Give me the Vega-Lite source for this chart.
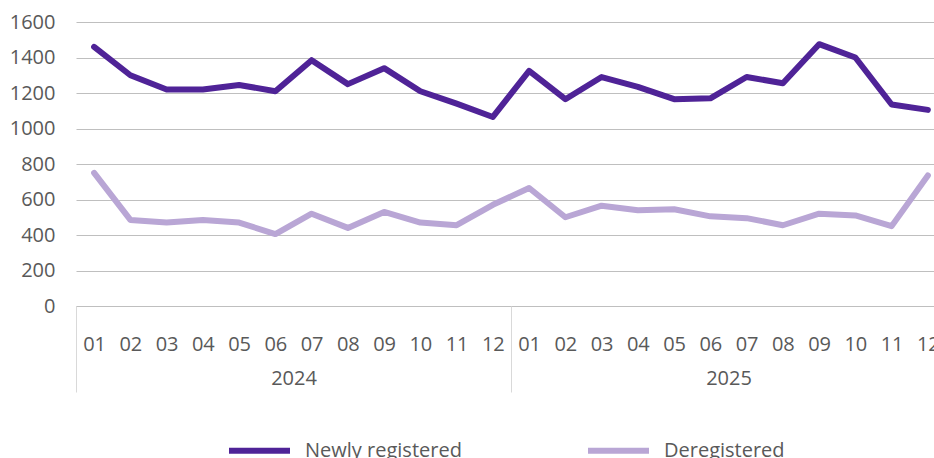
{
  "$schema": "https://vega.github.io/schema/vega-lite/v6.json",
  "width": 858,
  "height": 284,
  "autosize": {"type": "none"},
  "padding": {"left": 76, "top": 22, "right": 0, "bottom": 152},
  "background": "white",
  "config": {
    "view": {"stroke": null},
    "font": "Open Sans",
    "axis": {"labelFont": "Open Sans", "labelFontSize": 20, "labelColor": "#595959", "title": null}
  },
  "data": {
    "values": [
      {"period": "2024-01", "year": "2024", "series": "Newly registered", "value": 1460},
      {"period": "2024-02", "year": "2024", "series": "Newly registered", "value": 1300},
      {"period": "2024-03", "year": "2024", "series": "Newly registered", "value": 1220},
      {"period": "2024-04", "year": "2024", "series": "Newly registered", "value": 1220},
      {"period": "2024-05", "year": "2024", "series": "Newly registered", "value": 1245},
      {"period": "2024-06", "year": "2024", "series": "Newly registered", "value": 1210},
      {"period": "2024-07", "year": "2024", "series": "Newly registered", "value": 1385},
      {"period": "2024-08", "year": "2024", "series": "Newly registered", "value": 1250},
      {"period": "2024-09", "year": "2024", "series": "Newly registered", "value": 1340},
      {"period": "2024-10", "year": "2024", "series": "Newly registered", "value": 1210},
      {"period": "2024-11", "year": "2024", "series": "Newly registered", "value": 1140},
      {"period": "2024-12", "year": "2024", "series": "Newly registered", "value": 1065},
      {"period": "2025-01", "year": "2025", "series": "Newly registered", "value": 1325},
      {"period": "2025-02", "year": "2025", "series": "Newly registered", "value": 1165},
      {"period": "2025-03", "year": "2025", "series": "Newly registered", "value": 1290},
      {"period": "2025-04", "year": "2025", "series": "Newly registered", "value": 1235},
      {"period": "2025-05", "year": "2025", "series": "Newly registered", "value": 1165},
      {"period": "2025-06", "year": "2025", "series": "Newly registered", "value": 1170},
      {"period": "2025-07", "year": "2025", "series": "Newly registered", "value": 1290},
      {"period": "2025-08", "year": "2025", "series": "Newly registered", "value": 1255},
      {"period": "2025-09", "year": "2025", "series": "Newly registered", "value": 1475},
      {"period": "2025-10", "year": "2025", "series": "Newly registered", "value": 1400},
      {"period": "2025-11", "year": "2025", "series": "Newly registered", "value": 1135},
      {"period": "2025-12", "year": "2025", "series": "Newly registered", "value": 1105},
      {"period": "2024-01", "year": "2024", "series": "Deregistered", "value": 750},
      {"period": "2024-02", "year": "2024", "series": "Deregistered", "value": 485},
      {"period": "2024-03", "year": "2024", "series": "Deregistered", "value": 470},
      {"period": "2024-04", "year": "2024", "series": "Deregistered", "value": 485},
      {"period": "2024-05", "year": "2024", "series": "Deregistered", "value": 470},
      {"period": "2024-06", "year": "2024", "series": "Deregistered", "value": 405},
      {"period": "2024-07", "year": "2024", "series": "Deregistered", "value": 520},
      {"period": "2024-08", "year": "2024", "series": "Deregistered", "value": 440},
      {"period": "2024-09", "year": "2024", "series": "Deregistered", "value": 530},
      {"period": "2024-10", "year": "2024", "series": "Deregistered", "value": 470},
      {"period": "2024-11", "year": "2024", "series": "Deregistered", "value": 455},
      {"period": "2024-12", "year": "2024", "series": "Deregistered", "value": 570},
      {"period": "2025-01", "year": "2025", "series": "Deregistered", "value": 665},
      {"period": "2025-02", "year": "2025", "series": "Deregistered", "value": 500},
      {"period": "2025-03", "year": "2025", "series": "Deregistered", "value": 565},
      {"period": "2025-04", "year": "2025", "series": "Deregistered", "value": 540},
      {"period": "2025-05", "year": "2025", "series": "Deregistered", "value": 545},
      {"period": "2025-06", "year": "2025", "series": "Deregistered", "value": 505},
      {"period": "2025-07", "year": "2025", "series": "Deregistered", "value": 495},
      {"period": "2025-08", "year": "2025", "series": "Deregistered", "value": 455},
      {"period": "2025-09", "year": "2025", "series": "Deregistered", "value": 520},
      {"period": "2025-10", "year": "2025", "series": "Deregistered", "value": 510},
      {"period": "2025-11", "year": "2025", "series": "Deregistered", "value": 450},
      {"period": "2025-12", "year": "2025", "series": "Deregistered", "value": 735}
    ]
  },
  "layer": [
    {
      "mark": {"type": "line", "strokeWidth": 6, "strokeCap": "round", "strokeJoin": "round"},
      "encoding": {
        "x": {
          "field": "period",
          "type": "ordinal",
          "scale": {"type": "point", "range": [0, 870], "padding": 0.5},
          "axis": {
            "orient": "bottom",
            "labelAngle": 0,
            "ticks": false,
            "grid": false,
            "domain": true,
            "domainColor": "#BFBFBF",
            "domainWidth": 1,
            "labelPadding": 28,
            "labelOverlap": false,
            "labelExpr": "substring(datum.label, 5)"
          }
        },
        "y": {
          "field": "value",
          "type": "quantitative",
          "scale": {"domain": [0, 1600]},
          "axis": {
            "values": [0, 200, 400, 600, 800, 1000, 1200, 1400, 1600],
            "format": "d",
            "labelOverlap": false,
            "grid": true,
            "gridColor": "#BFBFBF",
            "gridWidth": 1,
            "domain": false,
            "ticks": false,
            "labelPadding": 21
          }
        },
        "color": {
          "field": "series",
          "type": "nominal",
          "scale": {"domain": ["Newly registered", "Deregistered"], "range": ["#4F2397", "#B9A6D5"]},
          "legend": {
            "orient": "none",
            "legendX": 150,
            "legendY": 395,
            "direction": "horizontal",
            "title": null,
            "padding": 0,
            "symbolType": "stroke",
            "symbolStrokeWidth": 6,
            "symbolSize": 3721,
            "labelFont": "Open Sans",
            "labelFontSize": 20,
            "labelColor": "#595959",
            "labelOffset": 12,
            "columnPadding": 114
          }
        }
      }
    },
    {
      "mark": {"type": "point", "opacity": 0},
      "encoding": {
        "x": {
          "field": "year",
          "type": "ordinal",
          "scale": {"type": "band", "range": [0, 870], "paddingInner": 0, "paddingOuter": 0},
          "axis": {
            "orient": "bottom",
            "labelAngle": 0,
            "ticks": true,
            "tickBand": "extent",
            "tickSize": 86,
            "tickColor": "#D9D9D9",
            "tickWidth": 1,
            "domain": false,
            "grid": false,
            "labelPadding": -24
          }
        },
        "y": {
          "field": "value",
          "type": "quantitative",
          "axis": {
            "values": [0, 200, 400, 600, 800, 1000, 1200, 1400, 1600],
            "format": "d",
            "labelOverlap": false,
            "grid": true,
            "gridColor": "#BFBFBF",
            "gridWidth": 1,
            "domain": false,
            "ticks": false,
            "labelPadding": 21
          }
        }
      }
    }
  ],
  "resolve": {"scale": {"x": "independent"}}
}
